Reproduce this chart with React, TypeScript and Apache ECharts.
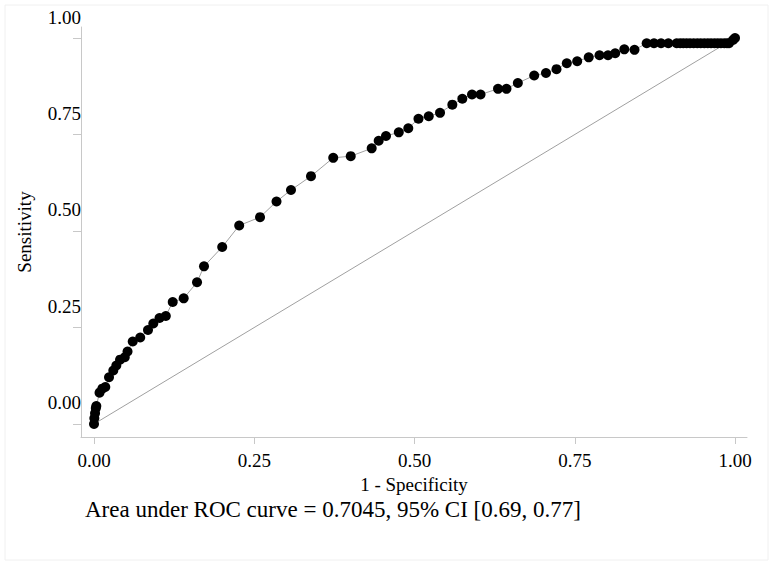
import React, { useEffect, useRef } from "react";
import * as echarts from "echarts";

const fpr = [
  0.0, 0.0005, 0.0016, 0.0028, 0.0036, 0.0086, 0.0129, 0.0176, 0.0234, 0.0301,
  0.0348, 0.0406, 0.048, 0.0523, 0.0604, 0.0721, 0.0842, 0.0925, 0.1022, 0.112,
  0.1228, 0.1399, 0.1607, 0.1716, 0.2, 0.2265, 0.259, 0.2847, 0.3073, 0.3385,
  0.3732, 0.4005, 0.4332, 0.4441, 0.4555, 0.4755, 0.4903, 0.5062, 0.5222, 0.5398,
  0.559, 0.5746, 0.5897, 0.603, 0.6303, 0.6435, 0.6612, 0.6867, 0.7051, 0.7215,
  0.7376, 0.7538, 0.7718, 0.7886, 0.8019, 0.8131, 0.8273, 0.8432, 0.8622, 0.8736,
  0.8846, 0.896, 0.909, 0.9145, 0.9193, 0.9245, 0.9298, 0.9355, 0.9412, 0.9465,
  0.9521, 0.9575, 0.9626, 0.968, 0.973, 0.978, 0.9833, 0.9875, 0.9906, 0.9969, 1.0,
];
const tpr = [
  0.0, 0.0148, 0.0277, 0.0407, 0.0466, 0.0811, 0.0915, 0.0959, 0.1212, 0.1386,
  0.1516, 0.1666, 0.1728, 0.1878, 0.2137, 0.2241, 0.2435, 0.2604, 0.2746, 0.2798,
  0.3161, 0.3256, 0.3671, 0.4085, 0.4585, 0.5142, 0.5358, 0.5764, 0.6062, 0.642,
  0.6896, 0.6938, 0.7142, 0.7339, 0.7461, 0.7557, 0.7663, 0.7907, 0.7972, 0.8062,
  0.8272, 0.8427, 0.8536, 0.8536, 0.8684, 0.8684, 0.8834, 0.9028, 0.9093, 0.9192,
  0.9347, 0.9397, 0.95, 0.9554, 0.9552, 0.9604, 0.9707, 0.9694, 0.9863, 0.9863,
  0.9863, 0.9863, 0.9863, 0.9863, 0.9863, 0.9863, 0.9863, 0.9863, 0.9863, 0.9863,
  0.9863, 0.9863, 0.9863, 0.9863, 0.9863, 0.9863, 0.9863, 0.9863, 0.9863, 0.9948, 1.0,
];
const refLine = [
  [0, 0],
  [1, 1],
];
const tickValues = [0, 0.25, 0.5, 0.75, 1];
const xAxisTitle = "1 - Specificity";
const yAxisTitle = "Sensitivity";
const note = "Area under ROC curve = 0.7045, 95% CI [0.69, 0.77]";

const FONT = "Liberation Serif";

export default function App() {
  const ref = useRef<HTMLDivElement>(null);
  useEffect(() => {
    if (!ref.current) return;
    document.body.style.margin = "0";
    const chart = echarts.init(ref.current, null, { renderer: "svg" });
    const pts = fpr.map((x, i) => [x, tpr[i]]);
    chart.setOption({
      animation: false,
      backgroundColor: "#ffffff",
      textStyle: { fontFamily: FONT },
      title: {
        text: note,
        left: 85,
        top: 496,
        padding: 0,
        textStyle: {
          fontFamily: FONT,
          fontWeight: "normal",
          fontSize: 23,
          lineHeight: 26,
          color: "#000",
        },
      },
      graphic: [
        {
          type: "rect",
          shape: { x: 5, y: 5, width: 763, height: 555 },
          style: { fill: "none", stroke: "#f0f0f0", lineWidth: 1 },
          silent: true,
        },
      ],
      grid: { left: 81, right: 27, top: 27, bottom: 129, containLabel: false },
      xAxis: {
        type: "value",
        min: -0.0203,
        max: 1.0187,
        name: xAxisTitle,
        nameLocation: "middle",
        nameGap: 27,
        nameTextStyle: { fontFamily: FONT, fontSize: 19, color: "#000" },
        axisLine: { show: true, onZero: false, lineStyle: { color: "#c8c8c8", width: 1 } },
        axisTick: {
          show: true,
          customValues: tickValues,
          length: 7,
          lineStyle: { color: "#c8c8c8" },
        },
        axisLabel: {
          customValues: tickValues,
          margin: 14,
          fontFamily: FONT,
          fontSize: 19,
          color: "#000",
          formatter: (v: number) => v.toFixed(2),
        },
        splitLine: { show: false },
      },
      yAxis: {
        type: "value",
        min: -0.0337,
        max: 1.0285,
        name: yAxisTitle,
        nameLocation: "middle",
        nameGap: 47,
        nameRotate: 90,
        nameTextStyle: { fontFamily: FONT, fontSize: 19, color: "#000" },
        axisLine: { show: true, onZero: false, lineStyle: { color: "#c8c8c8", width: 1 } },
        axisTick: {
          show: true,
          customValues: tickValues,
          length: 8,
          lineStyle: { color: "#c8c8c8" },
        },
        axisLabel: {
          customValues: tickValues,
          margin: 0,
          fontFamily: FONT,
          fontSize: 19,
          color: "#000",
          verticalAlign: "bottom",
          lineHeight: 18,
          padding: [0, 0, 12, 0],
          formatter: (v: number) => v.toFixed(2),
        },
        splitLine: { show: false },
      },
      series: [
        {
          type: "line",
          data: refLine,
          symbol: "none",
          lineStyle: { color: "#a0a0a0", width: 1 },
          z: 1,
          silent: true,
        },
        {
          type: "line",
          data: pts,
          symbol: "circle",
          symbolSize: 10,
          showAllSymbol: true,
          itemStyle: { color: "#000" },
          lineStyle: { color: "#a0a0a0", width: 1 },
          z: 2,
        },
      ],
    });
    return () => chart.dispose();
  }, []);
  return <div ref={ref} style={{ width: 774, height: 566 }} />;
}
